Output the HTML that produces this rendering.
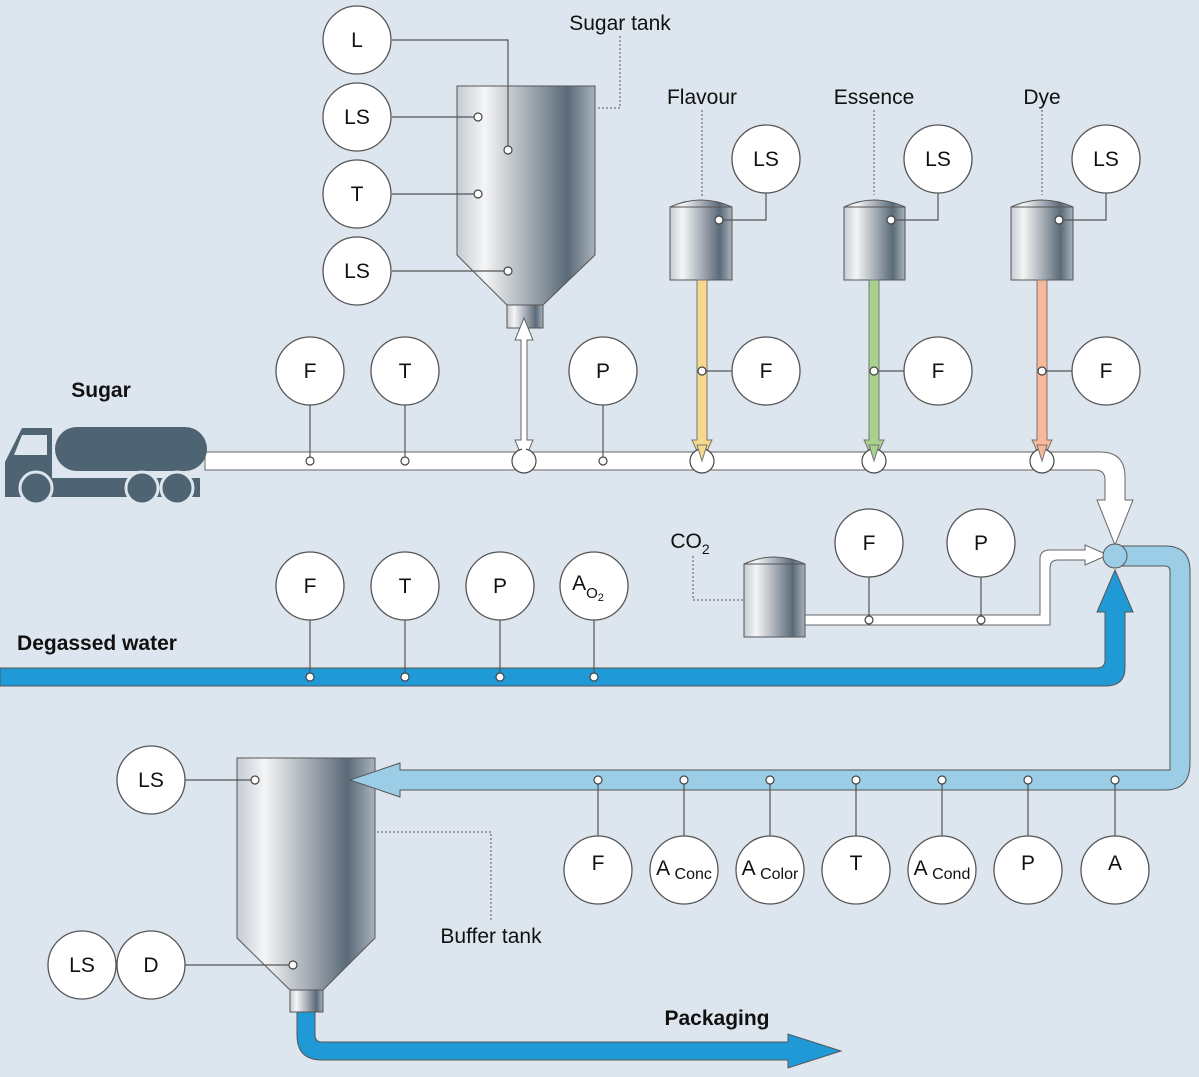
<!DOCTYPE html>
<html><head><meta charset="utf-8"><style>
html,body{margin:0;padding:0;background:#dde6ee}
svg{display:block}
text{font-family:"Liberation Sans","DejaVu Sans",sans-serif;fill:#111}
.c{fill:#fff;stroke:#555;stroke-width:1.3}
.l{stroke:#555;stroke-width:1.2;fill:none}
.d{stroke:#555;stroke-width:1;fill:none;stroke-dasharray:2,2}
.dot{fill:#fff;stroke:#444;stroke-width:1.2}
.ct{font-size:21px;text-anchor:middle}
.lb{font-size:21px;text-anchor:middle;fill:#333}
.b{font-size:21px;font-weight:bold}
</style></head><body>
<svg width="1199" height="1077" viewBox="0 0 1199 1077" xmlns="http://www.w3.org/2000/svg">
<defs>
<linearGradient id="g" x1="0" x2="1" y1="0" y2="0">
<stop offset="0" stop-color="#c4ccd3"/><stop offset="0.2" stop-color="#f4f5f6"/><stop offset="0.5" stop-color="#a9b0b8"/><stop offset="0.8" stop-color="#5a6a78"/><stop offset="1" stop-color="#a8b2bb"/>
</linearGradient>
</defs>
<rect width="1199" height="1077" fill="#dde6ee"/>

<!-- Buffer tank (drawn before product pipe) -->
<g stroke="#555">
<path d="M237,758 H375 V938 L323,990 H290 L237,938 Z" fill="url(#g)"/>
<rect x="290" y="990" width="33" height="22" fill="url(#g)"/>
</g>

<!-- Light blue product pipe -->
<path d="M1115,546 H1165 Q1190,546 1190,571 V763 Q1190,790 1165,790 H400 V797 L350,780 L400,763 V770 H1170 V571 Q1170,566 1165,566 H1115 Z" fill="#9ccde6" stroke="#555" stroke-width="1"/>

<!-- Degassed water pipe -->
<path d="M0,668 H1097 Q1105,668 1105,660 V612 H1097 L1115,570 L1133,612 H1125 V668 Q1125,686 1105,686 H0 Z" fill="#209ad6" stroke="#555" stroke-width="1"/>

<!-- Sugar pipe -->
<path d="M205,452 H1100 Q1125,452 1125,477 V500 H1133 L1115,545 L1097,500 H1105 V480 Q1105,470 1095,470 H205 Z" fill="#fff" stroke="#666" stroke-width="1"/>

<!-- CO2 pipe -->
<path d="M805,615 H1040 V559 Q1040,550 1050,550 H1085 V545 L1108,555 L1085,565 V560 H1058 Q1050,560 1050,568 V625 H805 Z" fill="#fff" stroke="#666" stroke-width="1"/>

<circle cx="1115" cy="556" r="12" fill="#9ccde6" stroke="#555"/>

<!-- Packaging pipe -->
<path d="M297,1012 V1035 Q297,1060 322,1060 H788 V1068 L841,1051 L788,1034 V1042 H322 Q315,1042 315,1035 V1012 Z" fill="#209ad6" stroke="#555" stroke-width="1"/>

<!-- Truck -->
<g fill="#4f6472">
<rect x="55" y="427" width="152" height="44" rx="22"/>
<path d="M5,462 L22,428 H52 V478 H200 V497 H5 Z"/>
<circle cx="36" cy="488" r="16" stroke="#dde6ee" stroke-width="3"/>
<circle cx="142" cy="488" r="16" stroke="#dde6ee" stroke-width="3"/>
<circle cx="177" cy="488" r="16" stroke="#dde6ee" stroke-width="3"/>
</g>
<path d="M22,435 H47 V455 H14 Z" fill="#dde6ee"/>

<!-- Sugar tank -->
<path d="M457,86 H595 V255 L543,305 H507 L457,255 Z" fill="url(#g)" stroke="#555"/>
<rect x="507" y="305" width="36" height="23" fill="url(#g)" stroke="#555"/>
<path d="M521,340 H515 L524,318 L533,340 H527 V440 H533 L524,462 L515,440 H521 Z" fill="#fff" stroke="#666"/>

<!-- small tanks -->
<g stroke="#555">
<path d="M670,207 Q701,193 732,207 V280 H670 Z" fill="url(#g)"/>
<path d="M844,207 Q874,193 905,207 V280 H844 Z" fill="url(#g)"/>
<path d="M1011,207 Q1042,193 1073,207 V280 H1011 Z" fill="url(#g)"/>
<path d="M744,564 Q774,550 805,564 V637 H744 Z" fill="url(#g)"/>
<path d="M670,207 H732 M844,207 H905 M1011,207 H1073 M744,564 H805" fill="none"/>
</g>
<path d="M697,280 H707 V440 H712 L702,462 L692,440 H697 Z" fill="#f6d98a" stroke="#777"/>
<path d="M869,280 H879 V440 H884 L874,462 L864,440 H869 Z" fill="#a9d18e" stroke="#777"/>
<path d="M1037,280 H1047 V440 H1052 L1042,462 L1032,440 H1037 Z" fill="#f7b99a" stroke="#777"/>

<g class="dot"><circle cx="524" cy="461" r="12"/><circle cx="702" cy="461" r="12"/><circle cx="874" cy="461" r="12"/><circle cx="1042" cy="461" r="12"/></g>
<path d="M521,445 H527 L524,460Z" fill="#fff"/>
<path d="M697,445 H707 L702,461Z" fill="#f6d98a" stroke="#777"/>
<path d="M869,445 H879 L874,461Z" fill="#a9d18e" stroke="#777"/>
<path d="M1037,445 H1047 L1042,461Z" fill="#f7b99a" stroke="#777"/>

<g class="l">
<path d="M392,40 H508 V150"/><path d="M392,117 H478"/><path d="M392,194 H478"/><path d="M392,271 H508"/>
<path d="M766,193 V220 H719"/><path d="M938,193 V220 H891"/><path d="M1106,193 V220 H1059"/>
<path d="M732,371 H702"/><path d="M904,371 H874"/><path d="M1072,371 H1042"/>
<path d="M310,405 V461"/><path d="M405,405 V461"/><path d="M603,405 V461"/>
<path d="M310,620 V677"/><path d="M405,620 V677"/><path d="M500,620 V677"/><path d="M594,620 V677"/>
<path d="M869,577 V620"/><path d="M981,577 V620"/>
<path d="M598,780 V836"/><path d="M684,780 V836"/><path d="M770,780 V836"/><path d="M856,780 V836"/><path d="M942,780 V836"/><path d="M1028,780 V836"/><path d="M1115,780 V836"/>
<path d="M185,780 H255"/><path d="M185,965 H293"/>
</g>
<g class="d">
<path d="M620,36 V108 H597"/><path d="M702,110 V198"/><path d="M874,110 V195"/><path d="M1042,110 V195"/>
<path d="M693,556 V600 H744"/><path d="M377,832 H491 V920"/>
</g>
<g class="dot">
<circle cx="508" cy="150" r="4"/><circle cx="478" cy="117" r="4"/><circle cx="478" cy="194" r="4"/><circle cx="508" cy="271" r="4"/>
<circle cx="719" cy="220" r="4"/><circle cx="891" cy="220" r="4"/><circle cx="1059" cy="220" r="4"/>
<circle cx="702" cy="371" r="4"/><circle cx="874" cy="371" r="4"/><circle cx="1042" cy="371" r="4"/>
<circle cx="310" cy="461" r="4"/><circle cx="405" cy="461" r="4"/><circle cx="603" cy="461" r="4"/>
<circle cx="310" cy="677" r="4"/><circle cx="405" cy="677" r="4"/><circle cx="500" cy="677" r="4"/><circle cx="594" cy="677" r="4"/>
<circle cx="869" cy="620" r="4"/><circle cx="981" cy="620" r="4"/>
<circle cx="598" cy="780" r="4"/><circle cx="684" cy="780" r="4"/><circle cx="770" cy="780" r="4"/><circle cx="856" cy="780" r="4"/><circle cx="942" cy="780" r="4"/><circle cx="1028" cy="780" r="4"/><circle cx="1115" cy="780" r="4"/>
<circle cx="255" cy="780" r="4"/><circle cx="293" cy="965" r="4"/>
</g>

<g class="c">
<circle cx="357" cy="40" r="34"/><circle cx="357" cy="117" r="34"/><circle cx="357" cy="194" r="34"/><circle cx="357" cy="271" r="34"/>
<circle cx="766" cy="159" r="34"/><circle cx="938" cy="159" r="34"/><circle cx="1106" cy="159" r="34"/>
<circle cx="310" cy="371" r="34"/><circle cx="405" cy="371" r="34"/><circle cx="603" cy="371" r="34"/>
<circle cx="766" cy="371" r="34"/><circle cx="938" cy="371" r="34"/><circle cx="1106" cy="371" r="34"/>
<circle cx="310" cy="586" r="34"/><circle cx="405" cy="586" r="34"/><circle cx="500" cy="586" r="34"/><circle cx="594" cy="586" r="34"/>
<circle cx="869" cy="543" r="34"/><circle cx="981" cy="543" r="34"/>
<circle cx="598" cy="870" r="34"/><circle cx="684" cy="870" r="34"/><circle cx="770" cy="870" r="34"/><circle cx="856" cy="870" r="34"/><circle cx="942" cy="870" r="34"/><circle cx="1028" cy="870" r="34"/><circle cx="1115" cy="870" r="34"/>
<circle cx="151" cy="780" r="34"/><circle cx="82" cy="965" r="34"/><circle cx="151" cy="965" r="34"/>
</g>
<g class="ct">
<text x="357" y="47">L</text><text x="357" y="124">LS</text><text x="357" y="201">T</text><text x="357" y="278">LS</text>
<text x="766" y="166">LS</text><text x="938" y="166">LS</text><text x="1106" y="166">LS</text>
<text x="310" y="378">F</text><text x="405" y="378">T</text><text x="603" y="378">P</text>
<text x="766" y="378">F</text><text x="938" y="378">F</text><text x="1106" y="378">F</text>
<text x="310" y="593">F</text><text x="405" y="593">T</text><text x="500" y="593">P</text>
<text x="588" y="590">A<tspan font-size="15" dy="8">O</tspan><tspan font-size="11" dy="3">2</tspan></text>
<text x="869" y="550">F</text><text x="981" y="550">P</text>
<text x="598" y="870">F</text>
<text x="684" y="875"><tspan>A</tspan><tspan font-size="16" dy="4"> Conc</tspan></text>
<text x="770" y="875"><tspan>A</tspan><tspan font-size="16" dy="4"> Color</tspan></text>
<text x="856" y="870">T</text>
<text x="942" y="875"><tspan>A</tspan><tspan font-size="16" dy="4"> Cond</tspan></text>
<text x="1028" y="870">P</text><text x="1115" y="870">A</text>
<text x="151" y="787">LS</text><text x="82" y="972">LS</text><text x="151" y="972">D</text>
</g>
<g class="lb">
<text x="620" y="30">Sugar tank</text><text x="702" y="104">Flavour</text><text x="874" y="104">Essence</text><text x="1042" y="104">Dye</text>
<text x="690" y="548">CO<tspan font-size="14" dy="6">2</tspan></text>
<text x="491" y="943">Buffer tank</text>
</g>
<text class="b" x="101" y="397" text-anchor="middle">Sugar</text>
<text class="b" x="97" y="650" text-anchor="middle">Degassed water</text>
<text class="b" x="717" y="1025" text-anchor="middle">Packaging</text>
</svg>
</body></html>
